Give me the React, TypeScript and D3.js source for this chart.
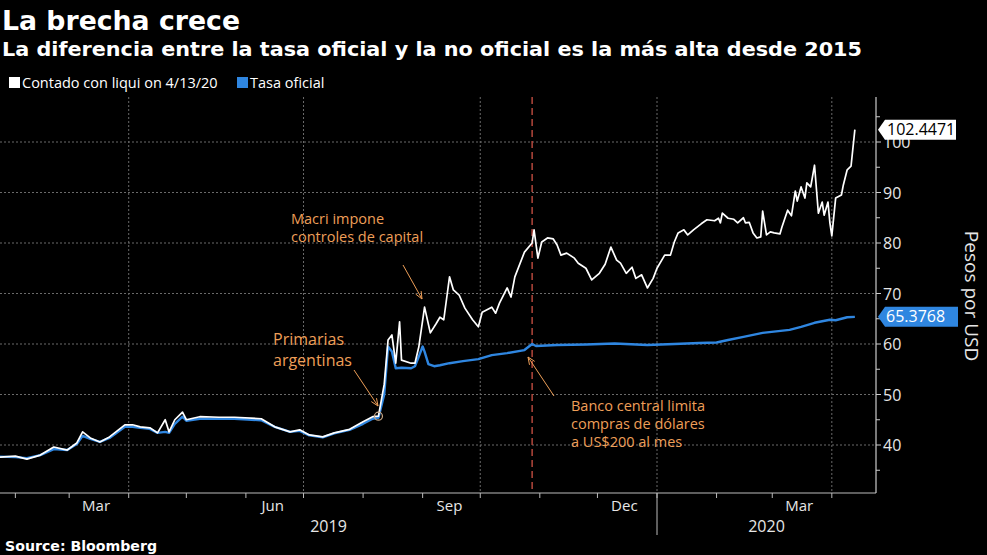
import React from 'react';
import * as d3 from 'd3';

// ---------- data ----------
const cclSeries: [string, number][] = [
  ['2019-01-24', 37.6], ['2019-02-01', 37.8], ['2019-02-07', 37.2], ['2019-02-14', 38.0],
  ['2019-02-21', 39.6], ['2019-02-28', 39.0], ['2019-03-05', 40.4], ['2019-03-08', 42.6],
  ['2019-03-12', 41.4], ['2019-03-17', 40.6], ['2019-03-22', 41.6], ['2019-03-30', 44.0],
  ['2019-04-03', 44.0], ['2019-04-07', 43.6], ['2019-04-12', 43.4], ['2019-04-16', 42.4],
  ['2019-04-20', 45.0], ['2019-04-22', 42.6], ['2019-04-25', 45.0], ['2019-04-29', 46.5],
  ['2019-05-01', 45.0], ['2019-05-08', 45.6], ['2019-05-18', 45.5], ['2019-05-26', 45.5],
  ['2019-06-09', 45.2], ['2019-06-16', 43.6], ['2019-06-24', 42.6], ['2019-06-29', 43.0],
  ['2019-07-04', 42.0], ['2019-07-11', 41.6], ['2019-07-17', 42.4], ['2019-07-25', 43.1],
  ['2019-08-01', 44.6], ['2019-08-06', 45.6], ['2019-08-09', 45.7], ['2019-08-12', 52.0],
  ['2019-08-14', 60.8], ['2019-08-16', 61.8], ['2019-08-18', 56.2], ['2019-08-20', 64.4],
  ['2019-08-21', 56.8], ['2019-08-26', 56.2], ['2019-08-28', 56.2], ['2019-08-30', 59.4],
  ['2019-09-02', 67.3], ['2019-09-05', 62.2], ['2019-09-08', 64.0], ['2019-09-10', 65.3],
  ['2019-09-12', 64.8], ['2019-09-15', 73.3], ['2019-09-17', 70.7], ['2019-09-20', 69.7],
  ['2019-09-23', 67.1], ['2019-09-27', 64.8], ['2019-09-30', 63.4], ['2019-10-02', 66.3],
  ['2019-10-07', 67.3], ['2019-10-09', 66.1], ['2019-10-11', 68.1], ['2019-10-15', 71.1],
  ['2019-10-17', 69.3], ['2019-10-19', 73.3], ['2019-10-24', 78.2], ['2019-10-28', 80.0],
  ['2019-10-29', 82.6], ['2019-10-31', 77.0], ['2019-11-02', 80.2], ['2019-11-05', 81.0],
  ['2019-11-08', 80.8], ['2019-11-10', 79.6], ['2019-11-12', 77.6], ['2019-11-15', 78.0],
  ['2019-11-19', 77.0], ['2019-11-21', 76.0], ['2019-11-25', 75.0], ['2019-11-28', 72.7],
  ['2019-12-02', 74.0], ['2019-12-05', 75.8], ['2019-12-08', 79.2], ['2019-12-11', 76.6],
  ['2019-12-13', 76.0], ['2019-12-16', 74.0], ['2019-12-19', 75.2], ['2019-12-21', 73.0],
  ['2019-12-24', 73.7], ['2019-12-27', 71.1], ['2019-12-30', 73.0], ['2020-01-01', 75.0],
  ['2020-01-05', 77.6], ['2020-01-08', 77.6], ['2020-01-10', 80.2], ['2020-01-12', 82.0],
  ['2020-01-15', 82.6], ['2020-01-17', 81.6], ['2020-01-20', 82.6], ['2020-01-24', 83.8],
  ['2020-01-27', 84.6], ['2020-01-31', 84.4], ['2020-02-02', 84.9], ['2020-02-03', 84.0],
  ['2020-02-04', 85.9], ['2020-02-07', 84.9], ['2020-02-10', 84.7], ['2020-02-12', 84.0],
  ['2020-02-15', 85.0], ['2020-02-16', 84.0], ['2020-02-18', 84.1], ['2020-02-20', 82.0],
  ['2020-02-22', 81.0], ['2020-02-24', 81.2], ['2020-02-25', 86.3], ['2020-02-27', 81.6],
  ['2020-02-29', 82.2], ['2020-03-02', 82.0], ['2020-03-05', 81.8], ['2020-03-06', 83.1],
  ['2020-03-09', 86.5], ['2020-03-11', 85.4], ['2020-03-13', 90.3], ['2020-03-14', 88.3],
  ['2020-03-16', 91.1], ['2020-03-18', 88.9], ['2020-03-19', 91.9], ['2020-03-21', 91.1],
  ['2020-03-23', 95.4], ['2020-03-25', 85.9], ['2020-03-27', 88.1], ['2020-03-28', 85.5],
  ['2020-03-30', 88.1], ['2020-03-31', 84.0], ['2020-04-01', 81.4], ['2020-04-03', 88.9],
  ['2020-04-06', 89.5], ['2020-04-07', 91.5], ['2020-04-09', 94.5], ['2020-04-11', 95.2],
  ['2020-04-13', 102.4471],
];

const oficialSeries: [string, number][] = [
  ['2019-01-24', 37.7], ['2019-02-01', 37.6], ['2019-02-07', 37.4], ['2019-02-14', 38.0],
  ['2019-02-21', 39.2], ['2019-02-28', 39.0], ['2019-03-05', 40.2], ['2019-03-08', 41.8],
  ['2019-03-12', 41.2], ['2019-03-17', 40.6], ['2019-03-22', 41.4], ['2019-03-30', 43.6],
  ['2019-04-03', 43.6], ['2019-04-07', 43.4], ['2019-04-12', 43.2], ['2019-04-16', 42.4],
  ['2019-04-20', 42.6], ['2019-04-22', 42.4], ['2019-04-25', 44.2], ['2019-04-29', 45.6],
  ['2019-05-01', 44.8], ['2019-05-08', 45.2], ['2019-05-18', 45.2], ['2019-05-26', 45.2],
  ['2019-06-09', 44.9], ['2019-06-16', 43.6], ['2019-06-24', 42.6], ['2019-06-29', 42.8],
  ['2019-07-04', 41.9], ['2019-07-11', 41.5], ['2019-07-17', 42.3], ['2019-07-25', 43.0],
  ['2019-08-01', 44.2], ['2019-08-06', 45.2], ['2019-08-09', 45.4], ['2019-08-12', 50.0],
  ['2019-08-14', 59.5], ['2019-08-16', 58.5], ['2019-08-18', 55.2], ['2019-08-21', 55.3],
  ['2019-08-26', 55.2], ['2019-08-28', 55.6], ['2019-08-30', 57.5], ['2019-09-01', 59.5],
  ['2019-09-02', 58.5], ['2019-09-04', 56.0], ['2019-09-07', 55.6], ['2019-09-10', 55.8],
  ['2019-09-15', 56.2], ['2019-09-22', 56.6], ['2019-09-30', 57.0], ['2019-10-07', 57.8],
  ['2019-10-15', 58.2], ['2019-10-24', 58.8], ['2019-10-28', 60.0], ['2019-10-30', 59.6],
  ['2019-11-10', 59.8], ['2019-11-25', 59.9], ['2019-12-10', 60.1], ['2019-12-27', 59.8],
  ['2020-01-10', 60.0], ['2020-01-23', 60.2], ['2020-02-01', 60.3], ['2020-02-07', 60.8],
  ['2020-02-15', 61.4], ['2020-02-25', 62.2], ['2020-03-10', 62.8], ['2020-03-16', 63.4],
  ['2020-03-23', 64.2], ['2020-03-31', 64.8], ['2020-04-03', 64.7], ['2020-04-09', 65.3],
  ['2020-04-13', 65.3768],
];

const seriesNames = ['Contado con liqui on 4/13/20', 'Tasa oficial'];
const seriesColors = ['#ffffff', '#2f86e0'];
const yTickValues = [40, 50, 60, 70, 80, 90, 100];
const yMinorValues = [35, 45, 55, 65, 75, 85, 95, 105];
const monthLabels = ['Mar', 'Jun', 'Sep', 'Dec'];
const lastValueLabels = ['102.4471', '65.3768'];
const eventDate = '2019-10-28';
const primariasDate = '2019-08-09';

// ---------- layout ----------
const W = 987;
const H = 555;
const plotTop = 97;
const plotBottom = 493;
const plotRight = 876;
const orange = '#ee9f58';
const fontSans = "'Open Sans', 'Noto Sans', sans-serif";
const fontBold = "'DejaVu Sans', Verdana, sans-serif";

const parse = (s: string) => {
  const [yy, mm, dd] = s.split('-').map(Number);
  return new Date(Date.UTC(yy, mm - 1, dd));
};

const x = d3.scaleUtc().domain([parse('2019-01-24'), parse('2020-04-24')]).range([0, plotRight]);
const y = d3.scaleLinear().domain([40, 100]).range([445, 142]);

const line = d3
  .line<[string, number]>()
  .x((d) => x(parse(d[0])))
  .y((d) => y(d[1]))
  .curve(d3.curveLinear);

function Arrow({ x1, y1, x2, y2 }: { x1: number; y1: number; x2: number; y2: number }) {
  const ang = Math.atan2(y2 - y1, x2 - x1);
  const L = 8;
  const a1 = ang + Math.PI - 0.4;
  const a2 = ang + Math.PI + 0.4;
  return (
    <g stroke={orange} strokeWidth={1} fill="none">
      <line x1={x1} y1={y1} x2={x2} y2={y2} />
      <line x1={x2} y1={y2} x2={x2 + L * Math.cos(a1)} y2={y2 + L * Math.sin(a1)} />
      <line x1={x2} y1={y2} x2={x2 + L * Math.cos(a2)} y2={y2 + L * Math.sin(a2)} />
    </g>
  );
}

export default function App() {
  const [d0, d1] = x.domain();
  const months = d3.utcMonth.range(d3.utcMonth.ceil(d0), d1);
  const quarters = months.filter((m) => m.getUTCMonth() % 3 === 0);
  const labelMonths = months.filter((m) => [2, 5, 8, 11].includes(m.getUTCMonth()));
  const yearStart = parse('2020-01-01');

  const lastCcl = cclSeries[cclSeries.length - 1];
  const lastOf = oficialSeries[oficialSeries.length - 1];
  const eventX = x(parse(eventDate));
  const primX = x(parse(primariasDate));
  const primY = y(cclSeries.find((d) => d[0] === primariasDate)![1]);

  const labelBox = (cy: number, w: number) =>
    `M${plotRight + 2},${cy} L${plotRight + 9},${cy - 10} L${plotRight + 9 + w},${cy - 10} L${plotRight + 9 + w},${cy + 10} L${plotRight + 9},${cy + 10} Z`;

  return (
    <svg
      width={W}
      height={H}
      style={{ position: 'absolute', left: 0, top: 0, background: '#000' }}
    >
      <rect x={0} y={0} width={W} height={H} fill="#000" />

      {/* titles */}
      <text x={2} y={30} fill="#fff" fontFamily={fontBold} fontWeight="bold" fontSize={26} textLength={238} lengthAdjust="spacingAndGlyphs">
        La brecha crece
      </text>
      <text x={2} y={56} fill="#fff" fontFamily={fontBold} fontWeight="bold" fontSize={19} textLength={860} lengthAdjust="spacingAndGlyphs">
        La diferencia entre la tasa oficial y la no oficial es la más alta desde 2015
      </text>

      {/* legend */}
      <rect x={9} y={77} width={11} height={11} fill={seriesColors[0]} />
      <text x={22} y={88} fill="#fff" fontFamily={fontSans} fontSize={14.5}>
        {seriesNames[0]}
      </text>
      <rect x={237} y={77} width={11} height={11} fill={seriesColors[1]} />
      <text x={250} y={88} fill="#fff" fontFamily={fontSans} fontSize={14.5}>
        {seriesNames[1]}
      </text>

      {/* grid */}
      <g stroke="#6a6a6a" strokeWidth={1} strokeDasharray="2,2">
        {yTickValues.map((v) => (
          <line key={'h' + v} x1={0} x2={plotRight} y1={y(v)} y2={y(v)} />
        ))}
        {quarters.map((m) => (
          <line key={'v' + m.toISOString()} x1={x(m)} x2={x(m)} y1={plotTop} y2={plotBottom} />
        ))}
      </g>

      {/* event line */}
      <line x1={eventX} x2={eventX} y1={plotTop} y2={plotBottom} stroke="#b3473c" strokeWidth={1.5} strokeDasharray="7,4" />

      {/* series */}
      <path d={line(oficialSeries) || ''} fill="none" stroke={seriesColors[1]} strokeWidth={2.4} strokeLinejoin="round" />
      <path d={line(cclSeries) || ''} fill="none" stroke={seriesColors[0]} strokeWidth={1.7} strokeLinejoin="round" />

      {/* primarias marker */}
      <circle cx={primX} cy={primY} r={4} fill="none" stroke="#c9a98a" strokeWidth={1.2} />

      {/* annotations */}
      <g fill={orange} fontFamily={fontSans}>
        <text x={291} y={224} fontSize={14.5}>Macri impone</text>
        <text x={291} y={242} fontSize={14.5}>controles de capital</text>
        <text x={273} y={345} fontSize={16}>Primarias</text>
        <text x={273} y={366} fontSize={16}>argentinas</text>
        <text x={571} y={411} fontSize={14.5}>Banco central limita</text>
        <text x={571} y={429} fontSize={14.5}>compras de dólares</text>
        <text x={571} y={447} fontSize={14.5}>a US$200 al mes</text>
      </g>
      <Arrow x1={403} y1={265} x2={422} y2={299} />
      <Arrow x1={354} y1={370} x2={378} y2={406} />
      <Arrow x1={554} y1={396} x2={528} y2={357} />

      {/* x axis */}
      <line x1={0} x2={plotRight} y1={plotBottom} y2={plotBottom} stroke="#bbb" strokeWidth={1.2} />
      {months.map((m) => (
        <line key={'t' + m.toISOString()} x1={x(m)} x2={x(m)} y1={plotBottom} y2={plotBottom + 5} stroke="#bbb" />
      ))}
      {labelMonths.map((m) => (
        <text
          key={'ml' + m.toISOString()}
          x={x(d3.utcDay.offset(m, 14))}
          y={511}
          fill="#e6e6e6"
          fontFamily={fontSans}
          fontSize={15}
          textAnchor="middle"
        >
          {monthLabels[Math.floor(m.getUTCMonth() / 3)]}
        </text>
      ))}
      <line x1={x(yearStart)} x2={x(yearStart)} y1={plotBottom} y2={535} stroke="#bbb" />
      <text x={(0 + x(yearStart)) / 2} y={532} fill="#e6e6e6" fontFamily={fontSans} fontSize={16} textAnchor="middle">
        2019
      </text>
      <text x={(x(yearStart) + plotRight) / 2} y={532} fill="#e6e6e6" fontFamily={fontSans} fontSize={16} textAnchor="middle">
        2020
      </text>

      {/* y axis (right) */}
      <line x1={plotRight} x2={plotRight} y1={plotTop} y2={plotBottom} stroke="#ccc" strokeWidth={1.2} />
      {yMinorValues.map((v) => (
        <line key={'ym' + v} x1={plotRight} x2={plotRight + 4} y1={y(v)} y2={y(v)} stroke="#ccc" />
      ))}
      {yTickValues.map((v) => (
        <g key={'yt' + v}>
          <line x1={plotRight} x2={plotRight + 5} y1={y(v)} y2={y(v)} stroke="#ccc" />
          <text x={883} y={y(v) + 6} fill="#e6e6e6" fontFamily={fontSans} fontSize={16}>
            {v}
          </text>
        </g>
      ))}
      <text
        transform={`translate(965, 296) rotate(90)`}
        fill="#e6e6e6"
        fontFamily={fontSans}
        fontSize={19}
        textAnchor="middle"
      >
        Pesos por USD
      </text>

      {/* last value labels */}
      <path d={labelBox(y(lastCcl[1]), 71)} fill="#fff" />
      <text x={887} y={y(lastCcl[1]) + 5.5} fill="#000" fontFamily={fontSans} fontSize={16}>
        {lastValueLabels[0]}
      </text>
      <path d={labelBox(y(lastOf[1]), 73)} fill={seriesColors[1]} />
      <text x={886} y={y(lastOf[1]) + 5.5} fill="#fff" fontFamily={fontSans} fontSize={16}>
        {lastValueLabels[1]}
      </text>

      {/* source */}
      <text x={5} y={551} fill="#fff" fontFamily={fontBold} fontWeight="bold" fontSize={14} textLength={152} lengthAdjust="spacingAndGlyphs">
        Source: Bloomberg
      </text>
    </svg>
  );
}
